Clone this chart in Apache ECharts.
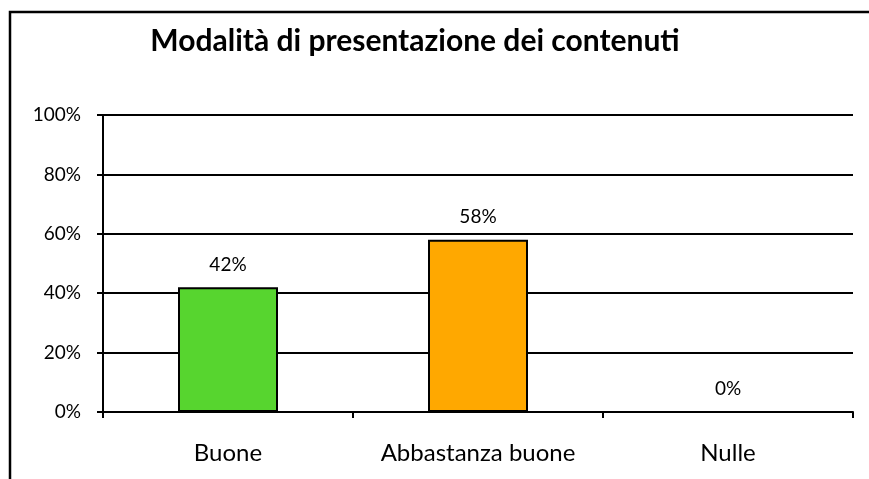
<!DOCTYPE html>
<html>
<head>
<meta charset="utf-8">
<script src="https://cdn.jsdelivr.net/npm/echarts@6/dist/echarts.min.js"></script>
<style>
  html, body { margin: 0; padding: 0; background: #fff; }
  #chart { width: 869px; height: 479px; }
</style>
</head>
<body>
<div id="chart"></div>
<script>
// dati
var categories = ['Buone', 'Abbastanza buone', 'Nulle'];
var values = [0.42, 0.58, 0];
var barColors = ['#57d52f', '#ffa800', '#ffffff'];
var titleText = 'Modalità di presentazione dei contenuti';

var myChart = echarts.init(document.getElementById('chart'));

function pct(v) {
  return Math.round(v * 100) + '%';
}

var option = {
  backgroundColor: '#fff',
  animation: false,
  textStyle: { fontFamily: 'Lato', color: '#000' },
  title: {
    text: titleText,
    left: 410,
    top: 21,
    textAlign: 'center',
    textStyle: { fontFamily: 'Lato', fontWeight: 'bold', fontSize: 30, color: '#000' }
  },
  // cornice del grafico
  graphic: [{
    type: 'rect',
    shape: { x: 10, y: 12, width: 900, height: 520 },
    style: { fill: 'none', stroke: '#000', lineWidth: 2.5 },
    silent: true
  }],
  grid: { left: 103, right: 16, top: 115, bottom: 67 },
  xAxis: {
    type: 'category',
    data: categories,
    axisLine: { lineStyle: { color: '#000', width: 2 } },
    axisTick: { show: true, interval: 0, length: 6, lineStyle: { color: '#000', width: 2 } },
    axisLabel: { interval: 0, hideOverlap: false, fontSize: 24, color: '#000', margin: 29, fontFamily: 'Lato' }
  },
  yAxis: {
    type: 'value',
    min: 0,
    max: 1,
    interval: 0.2,
    axisLine: { show: true, lineStyle: { color: '#000', width: 2 } },
    axisTick: { show: true, length: 6, lineStyle: { color: '#000', width: 2 } },
    axisLabel: { fontSize: 19, color: '#000', margin: 22, formatter: pct, fontFamily: 'Lato' },
    splitLine: { lineStyle: { color: '#000', width: 2 } }
  },
  series: [{
    type: 'bar',
    data: values.map(function (v, i) {
      return {
        value: v,
        itemStyle: { color: barColors[i], borderColor: v > 0 ? '#000' : 'transparent', borderWidth: 2 }
      };
    }),
    barWidth: '40%',
    label: {
      show: true,
      position: 'top',
      distance: 13,
      fontSize: 19,
      color: '#000',
      fontFamily: 'Lato',
      formatter: function (p) { return pct(p.value); }
    }
  }]
};

myChart.setOption(option);
</script>
</body>
</html>
